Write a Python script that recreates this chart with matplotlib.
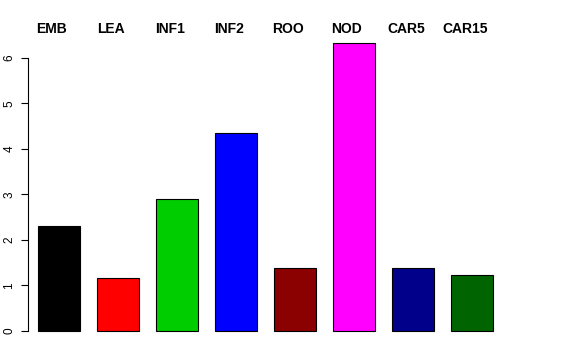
import numpy as np
import matplotlib
matplotlib.use('Agg')
import matplotlib.pyplot as plt

plt.rcParams['font.family'] = ['Liberation Sans', 'DejaVu Sans']

labels = ['EMB', 'LEA', 'INF1', 'INF2', 'ROO', 'NOD', 'CAR5', 'CAR15']
values = [2.31, 1.16, 2.90, 4.35, 1.38, 6.33, 1.38, 1.23]
colors = ['#000000', '#FF0000', '#00CD00', '#0000FF', '#8B0000', '#FF00FF', '#00008B', '#006400']

fig = plt.figure(figsize=(5.76, 3.6), dpi=100)
ax = fig.add_axes([28/576, 1 - 342.5/360, (512 - 28)/576, (342.5 - 31.6)/360])

x = np.arange(1, len(values) + 1)
ax.bar(x, values, width=0.712, color=colors, edgecolor='black', linewidth=0.8)

ax.set_xlim(0.475, 8.68)
ax.set_ylim(-0.253, 6.58)

for s in ['top', 'right', 'bottom']:
    ax.spines[s].set_visible(False)
ax.spines['left'].set_bounds(0, 6)
ax.set_xticks([])
ax.set_yticks(range(7))
ax.tick_params(axis='y', length=5, width=0.8, labelsize=8.5, pad=4)
for t in ax.get_yticklabels():
    t.set_rotation(90)
    t.set_va('center')

for xi, lab in zip(x, labels):
    ax.text(xi - 0.12, 6.64, lab, ha='center', va='center',
            fontsize=10, fontweight='bold', transform=ax.transData)

fig.savefig('out.png', dpi=100)
